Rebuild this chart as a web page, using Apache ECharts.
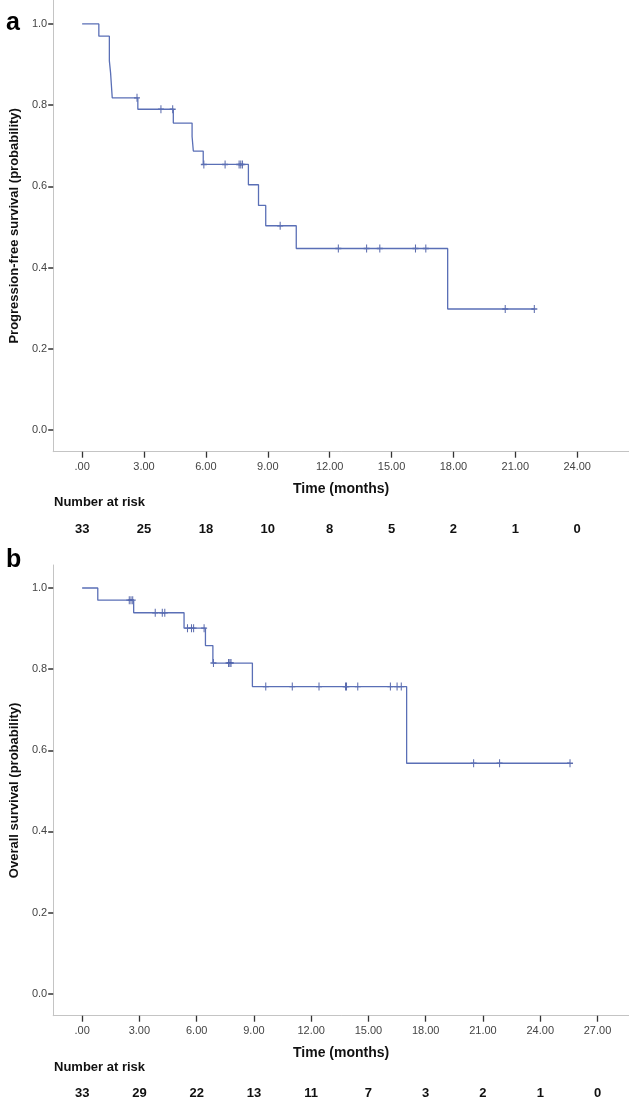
<!DOCTYPE html>
<html><head><meta charset="utf-8">
<script src="https://cdn.jsdelivr.net/npm/echarts@6/dist/echarts.min.js"></script>
<style>html,body{margin:0;padding:0;background:#fff}#c{width:629px;height:1103px}</style>
</head><body><div id="c"></div>
<script>
// ---- Panel a: progression-free survival ----
const pfsTimes = [0, 0.81, 1.32, 1.38, 1.42, 1.46, 2.70, 4.42, 5.33, 5.39, 5.87, 8.06, 8.55, 8.90, 10.38, 17.72, 21.92];
const pfsSurv  = [1.0, 0.970, 0.909, 0.879, 0.848, 0.818, 0.790, 0.756, 0.723, 0.687, 0.654, 0.604, 0.553, 0.503, 0.447, 0.298, 0.298];
const pfsCensorTimes = [2.66, 3.82, 4.39, 5.90, 6.93, 7.61, 7.69, 7.77, 9.60, 12.42, 13.79, 14.43, 16.16, 16.66, 20.51, 21.92];
const pfsCensorSurv  = [0.818, 0.790, 0.790, 0.654, 0.654, 0.654, 0.654, 0.654, 0.503, 0.447, 0.447, 0.447, 0.447, 0.447, 0.298, 0.298];
const pfsXTicks  = [0, 3, 6, 9, 12, 15, 18, 21, 24];
const pfsXLabels = ['.00', '3.00', '6.00', '9.00', '12.00', '15.00', '18.00', '21.00', '24.00'];
const pfsRisk    = [33, 25, 18, 10, 8, 5, 2, 1, 0];

// ---- Panel b: overall survival ----
const osTimes = [0, 0.82, 2.70, 5.34, 6.46, 6.85, 8.92, 17.00, 25.56];
const osSurv  = [1.0, 0.970, 0.939, 0.901, 0.858, 0.815, 0.757, 0.568, 0.568];
const osCensorTimes = [2.47, 2.56, 2.65, 3.83, 4.20, 4.33, 5.52, 5.73, 5.84, 6.39, 6.88, 7.67, 7.74, 7.80, 9.62, 11.01, 12.41, 13.80, 13.85, 14.44, 16.15, 16.50, 16.72, 20.51, 21.87, 25.56];
const osCensorSurv  = [0.970, 0.970, 0.970, 0.939, 0.939, 0.939, 0.901, 0.901, 0.901, 0.901, 0.815, 0.815, 0.815, 0.815, 0.757, 0.757, 0.757, 0.757, 0.757, 0.757, 0.757, 0.757, 0.757, 0.568, 0.568, 0.568];
const osXTicks  = [0, 3, 6, 9, 12, 15, 18, 21, 24, 27];
const osXLabels = ['.00', '3.00', '6.00', '9.00', '12.00', '15.00', '18.00', '21.00', '24.00', '27.00'];
const osRisk    = [33, 29, 22, 13, 11, 7, 3, 2, 1, 0];

const yTicks  = [0, 0.2, 0.4, 0.6, 0.8, 1.0];
const yLabels = ['0.0', '0.2', '0.4', '0.6', '0.8', '1.0'];

const FONT = 'Liberation Sans, Arial, sans-serif';
const LINE_COLOR = '#5a6fb6';
const CENSOR_COLOR = '#34499a';
const AXIS_GRAY = '#c4c4c4';

function zip(a, b) { return a.map((v, i) => [v, b[i]]); }
function mapLabel(ticks, labels) {
  return v => { const i = ticks.findIndex(t => Math.abs(t - v) < 1e-6); return i >= 0 ? String(labels[i]) : ''; };
}

function mainX(gridIndex, min, max, ticks, labels) {
  return {
    type: 'value', gridIndex, min, max, position: 'bottom',
    axisLine: { show: true, onZero: false, lineStyle: { color: AXIS_GRAY, width: 1 } },
    axisTick: { show: true, customValues: ticks, length: 6, lineStyle: { color: '#333', width: 1.3 } },
    axisLabel: { show: true, customValues: ticks, formatter: mapLabel(ticks, labels), margin: 10,
      fontFamily: FONT, fontSize: 11, color: '#444' },
    splitLine: { show: false },
    name: 'Time (months)', nameLocation: 'middle', nameGap: 30,
    nameTextStyle: { fontFamily: FONT, fontSize: 14, fontWeight: 'bold', color: '#111' }
  };
}
function riskX(gridIndex, min, max, ticks, risk) {
  return {
    type: 'value', gridIndex, min, max, position: 'bottom',
    axisLine: { show: false }, axisTick: { show: false }, splitLine: { show: false },
    axisLabel: { show: true, customValues: ticks, formatter: mapLabel(ticks, risk), margin: 71,
      fontFamily: FONT, fontSize: 13, fontWeight: 'bold', color: '#111' }
  };
}
function mainY(gridIndex, min, max, name) {
  return {
    type: 'value', gridIndex, min, max,
    axisLine: { show: true, onZero: false, lineStyle: { color: AXIS_GRAY, width: 1 } },
    axisTick: { show: true, customValues: yTicks, length: 5, lineStyle: { color: '#333', width: 1.5 } },
    axisLabel: { show: true, customValues: yTicks, formatter: mapLabel(yTicks, yLabels), margin: 6,
      fontFamily: FONT, fontSize: 11, color: '#444' },
    splitLine: { show: false },
    name, nameLocation: 'middle', nameGap: 32,
    nameTextStyle: { fontFamily: FONT, fontSize: 13, fontWeight: 'bold', color: '#111' }
  };
}
const plusSymbol = 'path://M5,0 L5,10 M0,5 L10,5';
function kmSeries(xi, yi, times, surv) {
  return { type: 'line', xAxisIndex: xi, yAxisIndex: yi, step: 'end', data: zip(times, surv),
    showSymbol: false, symbol: 'none', lineStyle: { color: LINE_COLOR, width: 1.3 }, silent: true, animation: false };
}
function censorSeries(xi, yi, times, surv) {
  return { type: 'scatter', xAxisIndex: xi, yAxisIndex: yi, data: zip(times, surv),
    symbol: plusSymbol, symbolSize: [6, 8],
    itemStyle: { color: 'none', borderColor: CENSOR_COLOR, borderWidth: 1.2 }, silent: true, animation: false };
}

const chart = echarts.init(document.getElementById('c'), null, { renderer: 'canvas' });
chart.setOption({
  backgroundColor: '#fff',
  animation: false,
  grid: [
    { left: 52, top: 0, width: 577, height: 451.7 },
    { left: 52, top: 565, width: 577, height: 450.7 }
  ],
  xAxis: [
    mainX(0, -1.403, 26.51, pfsXTicks, pfsXLabels),
    mainX(1, -1.516, 28.65, osXTicks, osXLabels),
    riskX(0, -1.403, 26.51, pfsXTicks, pfsRisk),
    riskX(1, -1.516, 28.65, osXTicks, osRisk)
  ],
  yAxis: [
    mainY(0, -0.0534, 1.059, 'Progression-free survival (probability)'),
    mainY(1, -0.0542, 1.0567, 'Overall survival (probability)')
  ],
  series: [
    kmSeries(0, 0, pfsTimes, pfsSurv),
    censorSeries(0, 0, pfsCensorTimes, pfsCensorSurv),
    kmSeries(1, 1, osTimes, osSurv),
    censorSeries(1, 1, osCensorTimes, osCensorSurv)
  ],
  graphic: [
    { type: 'text', left: 6, top: 11, style: { text: 'a', font: 'bold 25px ' + FONT, fill: '#000' } },
    { type: 'text', left: 6, top: 548, style: { text: 'b', font: 'bold 25px ' + FONT, fill: '#000' } },
    { type: 'text', left: 54, top: 496, style: { text: 'Number at risk', font: 'bold 13px ' + FONT, fill: '#111' } },
    { type: 'text', left: 54, top: 1061, style: { text: 'Number at risk', font: 'bold 13px ' + FONT, fill: '#111' } }
  ]
});
</script>
</body></html>
